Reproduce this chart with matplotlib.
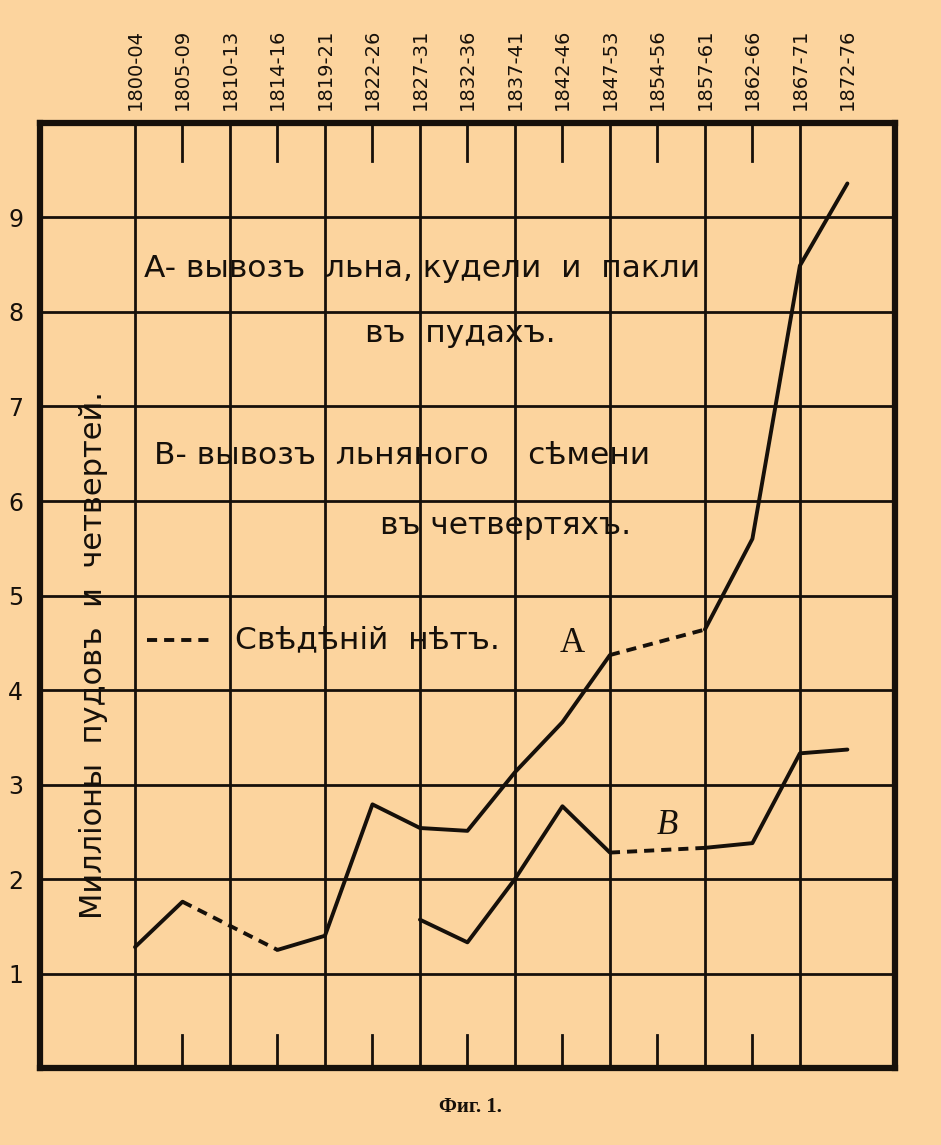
import numpy as np
import matplotlib.pyplot as plt

# periods along the top of the chart
PERIODS = ["1800-04", "1805-09", "1810-13", "1814-16", "1819-21", "1822-26",
           "1827-31", "1832-36", "1837-41", "1842-46", "1847-53", "1854-56",
           "1857-61", "1862-66", "1867-71", "1872-76"]

# A - flax, tow and oakum export, millions of puds (None = no data)
FLAX = [1.28, 1.76, None, 1.25, 1.40, 2.79, 2.54, 2.51, 3.13, 3.66, 4.37,
        None, 4.64, 5.60, 8.49, 9.36]

# B - linseed export, millions of chetverts
SEED = [None, None, None, None, None, None, 1.57, 1.33, 2.00, 2.77, 2.28,
        None, 2.33, 2.38, 3.33, 3.37]

Y_TICKS = [1, 2, 3, 4, 5, 6, 7, 8, 9]

BG = "#fcd49e"
INK = "#16100a"

plt.rcParams["font.family"] = ["DejaVu Sans"]

fig = plt.figure(figsize=(9.41, 11.45), dpi=100, facecolor=BG)
ax = fig.add_axes([0.0425, 0.0672, 0.9085, 0.8254], facecolor=BG)

n = len(PERIODS)
ax.set_xlim(-2, 16)
ax.set_ylim(0, 10)

# grid: horizontal lines at every value, vertical lines at every other period
for v in Y_TICKS:
    ax.axhline(v, color=INK, lw=2.0, zorder=1)
for i in range(0, n - 1, 2):
    ax.axvline(i, color=INK, lw=2.0, zorder=1)
# short marks at the other periods, top and bottom
for i in range(1, n - 1, 2):
    ax.plot([i, i], [10, 9.6], color=INK, lw=2.0, zorder=1)
    ax.plot([i, i], [0, 0.35], color=INK, lw=2.0, zorder=1)

for sp in ax.spines.values():
    sp.set_color(INK)
    sp.set_linewidth(4.5)


def draw_series(values):
    xs = np.arange(len(values))
    ys = np.array([np.nan if v is None else v for v in values])
    ax.plot(xs, ys, color=INK, lw=2.8, solid_capstyle="round",
            solid_joinstyle="round", zorder=3)
    # dashed bridges over periods without data
    known = [i for i, v in enumerate(values) if v is not None]
    for a, b in zip(known[:-1], known[1:]):
        if b - a > 1:
            ax.plot([a, b], [values[a], values[b]], color=INK, lw=2.8,
                    dashes=(2.6, 1.8), zorder=3)


draw_series(FLAX)
draw_series(SEED)

# axes labels and ticks
ax.xaxis.tick_top()
ax.set_xticks(range(n), PERIODS, rotation=90, fontsize=14)
ax.set_yticks(Y_TICKS, [str(v) for v in Y_TICKS], fontsize=17)
ax.tick_params(axis="both", length=0, colors=INK)
ax.tick_params(axis="x", pad=9)
ax.tick_params(axis="y", pad=12)

txt = dict(color=INK, fontsize=22.5, va="center")
ax.text(0.2, 8.46, "A- вывозъ  льна, кудели  и  пакли", ha="left", **txt)
ax.text(6.85, 7.77, "въ  пудахъ.", ha="center", **txt)
ax.text(0.4, 6.48, "B- вывозъ  льняного    сѣмени", ha="left", **txt)
ax.text(7.8, 5.74, "въ четвертяхъ.", ha="center", **txt)
ax.plot([0.25, 1.55], [4.53, 4.53], color=INK, lw=2.8, dashes=(2.6, 1.8))
ax.text(2.1, 4.53, "Свѣдѣній  нѣтъ.", ha="left", **txt)

ax.text(9.2, 4.49, "A", ha="center", va="center", fontsize=25,
        family="Liberation Serif", color=INK)
ax.text(11.2, 2.57, "B", ha="center", va="center", fontsize=25,
        family="Liberation Serif", style="italic", color=INK)

ax.text(-0.87, 4.37, "Милліоны  пудовъ  и  четвертей.", rotation=90,
        ha="center", va="center", fontsize=22, color=INK)

fig.text(0.4995, 0.0332, "Фиг. 1.", ha="center", va="center", fontsize=15,
         family="Liberation Serif", weight="bold", color=INK)

fig.savefig("out.png", dpi=100, facecolor=BG)
